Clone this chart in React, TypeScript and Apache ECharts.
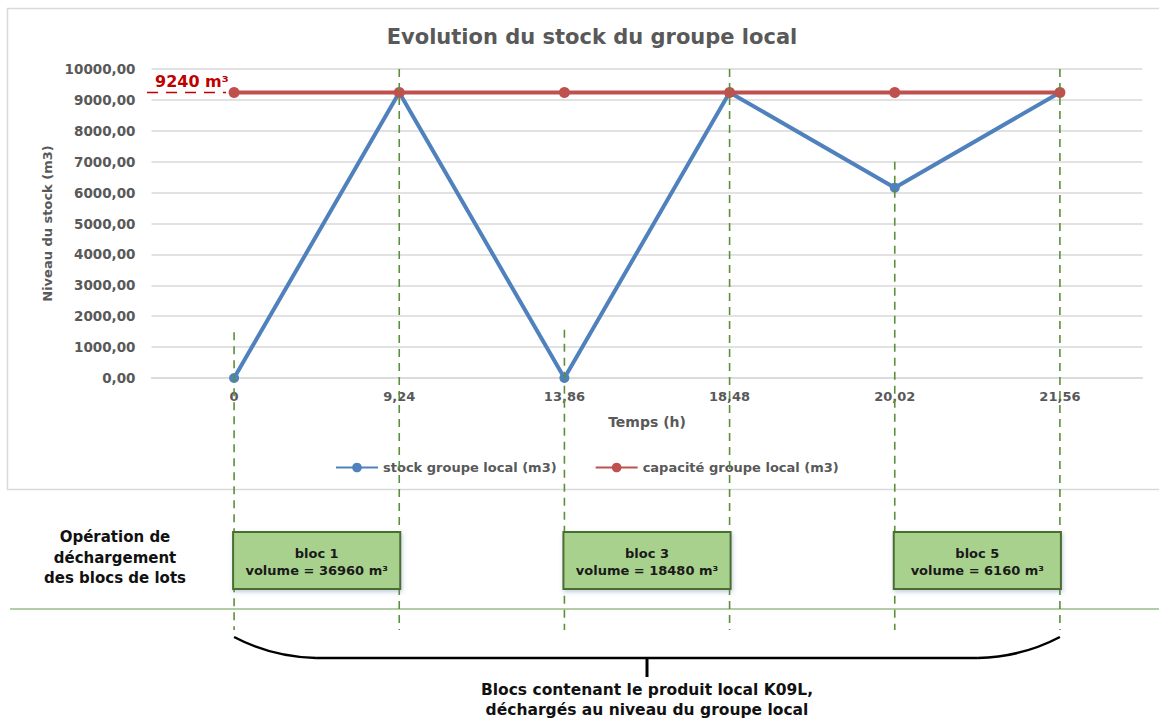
import React, { useEffect, useRef } from 'react';
import * as echarts from 'echarts';

const categories = ['0', '9,24', '13,86', '18,48', '20,02', '21,56'];
const stockValues = [0, 9240, 0, 9240, 6160, 9240];
const capacityValues = [9240, 9240, 9240, 9240, 9240, 9240];
const guideTopValues = [1480, 10000, 1560, 10000, 7000, 10000];
const blocNames = ['bloc 1', 'bloc 3', 'bloc 5'];
const blocVolumes = ['36960', '18480', '6160'];
const blocFrom = [0, 2, 4];
const blocTo = [1, 3, 5];
const capacityLabel = '9240 m³';
const leftLabelLines = ['Opération de', 'déchargement', 'des blocs de lots'];
const braceLabelLines = ['Blocs contenant le produit local K09L,', 'déchargés au niveau du groupe local'];

const FONT = "'DejaVu Sans', sans-serif";
const GREY = '#595959';
const GREEN_DASH = '#5b8f3a';

export default function App() {
  const ref = useRef<HTMLDivElement>(null);

  useEffect(() => {
    if (!ref.current) return;
    const chart = echarts.init(ref.current, undefined, { renderer: 'svg' });
    const option: any = {
      animation: false,
      backgroundColor: '#ffffff',
      title: {
        text: 'Evolution du stock du groupe local',
        left: 587,
        top: 21,
        textAlign: 'center',
        textStyle: { color: GREY, fontFamily: FONT, fontWeight: 'bold', fontSize: 21 },
      },
      legend: {
        left: 330,
        top: 456,
        itemWidth: 42,
        itemHeight: 12,
        itemGap: 38,
        textStyle: { color: GREY, fontFamily: FONT, fontWeight: 'bold', fontSize: 13 },
        data: ['stock groupe local (m3)', 'capacité groupe local (m3)'],
      },
      grid: { left: 151.5, right: 16.5, top: 69, bottom: 342, containLabel: false },
      xAxis: {
        type: 'category',
        data: categories,
        boundaryGap: true,
        name: 'Temps (h)',
        nameLocation: 'middle',
        nameGap: 37,
        nameTextStyle: { color: GREY, fontFamily: FONT, fontWeight: 'bold', fontSize: 14 },
        axisLine: { show: true, lineStyle: { color: '#d9d9d9', width: 1.5 } },
        axisTick: { show: false },
        axisLabel: { color: GREY, fontFamily: FONT, fontWeight: 'bold', fontSize: 13, margin: 12 },
        splitLine: { show: false },
      },
      yAxis: {
        type: 'value',
        min: 0,
        max: 10000,
        interval: 1000,
        name: 'Niveau du stock (m3)',
        nameLocation: 'middle',
        nameGap: 96,
        nameTextStyle: { color: GREY, fontFamily: FONT, fontWeight: 'bold', fontSize: 13 },
        axisLine: { show: false },
        axisTick: { show: false },
        axisLabel: {
          color: GREY,
          fontFamily: FONT,
          fontWeight: 'bold',
          fontSize: 13.5,
          margin: 16,
          formatter: (v: number) => v.toFixed(2).replace('.', ','),
        },
        splitLine: { lineStyle: { color: '#d9d9d9', width: 1.5 } },
      },
      series: [
        {
          name: 'stock groupe local (m3)',
          type: 'line',
          data: stockValues,
          symbol: 'circle',
          symbolSize: 10,
          lineStyle: { color: '#4f81bd', width: 4 },
          itemStyle: { color: '#4f81bd' },
        },
        {
          name: 'capacité groupe local (m3)',
          type: 'line',
          data: capacityValues,
          symbol: 'circle',
          symbolSize: 11,
          lineStyle: { color: '#c0504d', width: 4 },
          itemStyle: { color: '#c0504d' },
        },
      ],
    };
    chart.setOption(option);

    const px = (i: number, v: number) => chart.convertToPixel({ gridIndex: 0 }, [i, v]) as number[];
    const xs = categories.map((_, i) => px(i, 0)[0]);
    const capY = px(0, capacityValues[0])[1];
    const graphics: any[] = [];

    graphics.push({
      type: 'rect',
      shape: { x: 7.5, y: 8.5, width: 1165, height: 481 },
      style: { fill: 'none', stroke: '#d9d9d9', lineWidth: 1.5 },
      z: -10,
      silent: true,
    });

    graphics.push({
      type: 'line',
      shape: { x1: 147, y1: capY, x2: xs[0] - 8, y2: capY },
      style: { stroke: '#c00000', lineWidth: 1.5, lineDash: [11, 8] },
    });
    graphics.push({
      type: 'text',
      x: 155,
      y: capY - 11,
      style: {
        text: capacityLabel,
        fill: '#c00000',
        font: `bold 16px ${FONT}`,
        textAlign: 'left',
        textVerticalAlign: 'middle',
      },
    });

    graphics.push({
      type: 'line',
      shape: { x1: 10, y1: 609, x2: 1159, y2: 609 },
      style: { stroke: '#6a9a4a', lineWidth: 1.2 },
    });

    xs.forEach((x, i) => {
      const top = px(i, guideTopValues[i])[1];
      graphics.push({
        type: 'line',
        shape: { x1: x, y1: top, x2: x, y2: 630 },
        style: { stroke: GREEN_DASH, lineWidth: 1.6, lineDash: [8, 6] },
        z: 50,
      });
    });

    blocNames.forEach((name, k) => {
      const x1 = xs[blocFrom[k]] - 1;
      const x2 = xs[blocTo[k]] + 1;
      const cx = (x1 + x2) / 2;
      graphics.push({
        type: 'rect',
        shape: { x: x1, y: 532, width: x2 - x1, height: 57 },
        style: {
          fill: '#a9d18e',
          stroke: '#4b6e2f',
          lineWidth: 2,
          shadowBlur: 4,
          shadowColor: 'rgba(80,110,160,0.35)',
          shadowOffsetX: 1,
          shadowOffsetY: 2,
        },
        z: 60,
      });
      graphics.push({
        type: 'text',
        x: cx,
        y: 553,
        style: { text: name, fill: '#1a1a1a', font: `bold 13px ${FONT}`, textAlign: 'center', textVerticalAlign: 'middle' },
        z: 61,
      });
      graphics.push({
        type: 'text',
        x: cx,
        y: 570,
        style: {
          text: `volume = ${blocVolumes[k]} m³`,
          fill: '#1a1a1a',
          font: `bold 13px ${FONT}`,
          textAlign: 'center',
          textVerticalAlign: 'middle',
        },
        z: 61,
      });
    });

    leftLabelLines.forEach((t, i) => {
      graphics.push({
        type: 'text',
        x: 115,
        y: 537 + i * 20.5,
        style: { text: t, fill: '#111111', font: `bold 15px ${FONT}`, textAlign: 'center', textVerticalAlign: 'middle' },
      });
    });

    const bx0 = xs[0];
    const bx1 = xs[xs.length - 1];
    const mid = (bx0 + bx1) / 2;
    const braceStyle = { stroke: '#000000', lineWidth: 2.5, fill: 'none' };
    graphics.push({
      type: 'bezierCurve',
      shape: { x1: bx0, y1: 637, cpx1: bx0 + 38, cpy1: 657, x2: bx0 + 82, y2: 658 },
      style: braceStyle,
    });
    graphics.push({
      type: 'line',
      shape: { x1: bx0 + 82, y1: 658, x2: bx1 - 82, y2: 658 },
      style: braceStyle,
    });
    graphics.push({
      type: 'bezierCurve',
      shape: { x1: bx1, y1: 637, cpx1: bx1 - 38, cpy1: 657, x2: bx1 - 82, y2: 658 },
      style: braceStyle,
    });
    graphics.push({
      type: 'line',
      shape: { x1: mid, y1: 658, x2: mid, y2: 677 },
      style: { stroke: '#000000', lineWidth: 3 },
    });
    braceLabelLines.forEach((t, i) => {
      graphics.push({
        type: 'text',
        x: mid,
        y: 690 + i * 20,
        style: { text: t, fill: '#111111', font: `bold 15.5px ${FONT}`, textAlign: 'center', textVerticalAlign: 'middle' },
      });
    });

    chart.setOption({ graphic: graphics });

    return () => chart.dispose();
  }, []);

  return (
    <div
      ref={ref}
      style={{ position: 'absolute', left: 0, top: 0, width: 1159, height: 720, background: '#ffffff' }}
    />
  );
}
